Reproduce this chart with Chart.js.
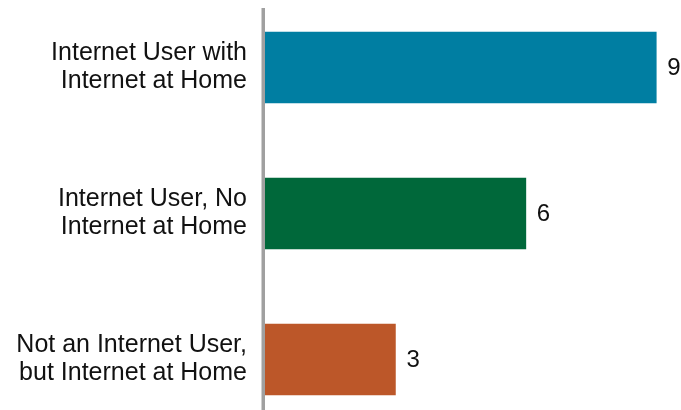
<!DOCTYPE html>
<html>
<head>
<meta charset="utf-8">
<script src="https://cdn.jsdelivr.net/npm/chart.js@4/dist/chart.umd.min.js"></script>
<style>
  html, body { margin: 0; padding: 0; background: #fff; overflow: hidden; }
</style>
</head>
<body>
<canvas id="chart" width="681" height="410"></canvas>
<script>
// categories, values, colours
const categories = [
  ['Internet User with', 'Internet at Home'],
  ['Internet User, No', 'Internet at Home'],
  ['Not an Internet User,', 'but Internet at Home']
];
const values = [9, 6, 3];
const barColors = ['#007ea2', '#00683a', '#bc5729'];

// gray axis line on the left of the bars
const axisLine = {
  id: 'axisLine',
  afterDatasetsDraw(chart) {
    const ctx = chart.ctx;
    const x = chart.scales.x.getPixelForValue(0) - 1.75;
    ctx.save();
    ctx.strokeStyle = '#a0a0a0';
    ctx.lineWidth = 3.5;
    ctx.beginPath();
    ctx.moveTo(x, 8);
    ctx.lineTo(x, chart.height);
    ctx.stroke();
    ctx.restore();
  }
};

// value labels right of each bar
const valueLabels = {
  id: 'valueLabels',
  afterDatasetsDraw(chart) {
    const ctx = chart.ctx;
    const meta = chart.getDatasetMeta(0);
    ctx.save();
    ctx.font = '24px "Liberation Sans", Arial, sans-serif';
    ctx.fillStyle = '#111';
    ctx.textAlign = 'left';
    ctx.textBaseline = 'middle';
    meta.data.forEach((bar, i) => {
      ctx.fillText(String(values[i]), bar.x + 11, bar.y + 1);
    });
    ctx.restore();
  }
};

new Chart(document.getElementById('chart'), {
  type: 'bar',
  data: {
    labels: categories,
    datasets: [{
      data: values,
      backgroundColor: barColors,
      borderWidth: 0,
      barThickness: 71,
      clip: false
    }]
  },
  options: {
    indexAxis: 'y',
    responsive: false,
    animation: false,
    layout: { padding: { top: 67.5, bottom: 50.5, right: 3, left: 0 } },
    plugins: { legend: { display: false }, tooltip: { enabled: false } },
    scales: {
      x: { display: false, min: 0, max: 9.5 },
      y: {
        offset: false,
        grid: { display: false },
        border: { display: false },
        ticks: {
          color: '#111',
          padding: 10,
          font: { family: '"Liberation Sans", Arial, sans-serif', size: 25, lineHeight: 1.12 }
        },
        afterFit(s) { s.width = 265; }
      }
    }
  },
  plugins: [axisLine, valueLabels]
});
</script>
</body>
</html>
